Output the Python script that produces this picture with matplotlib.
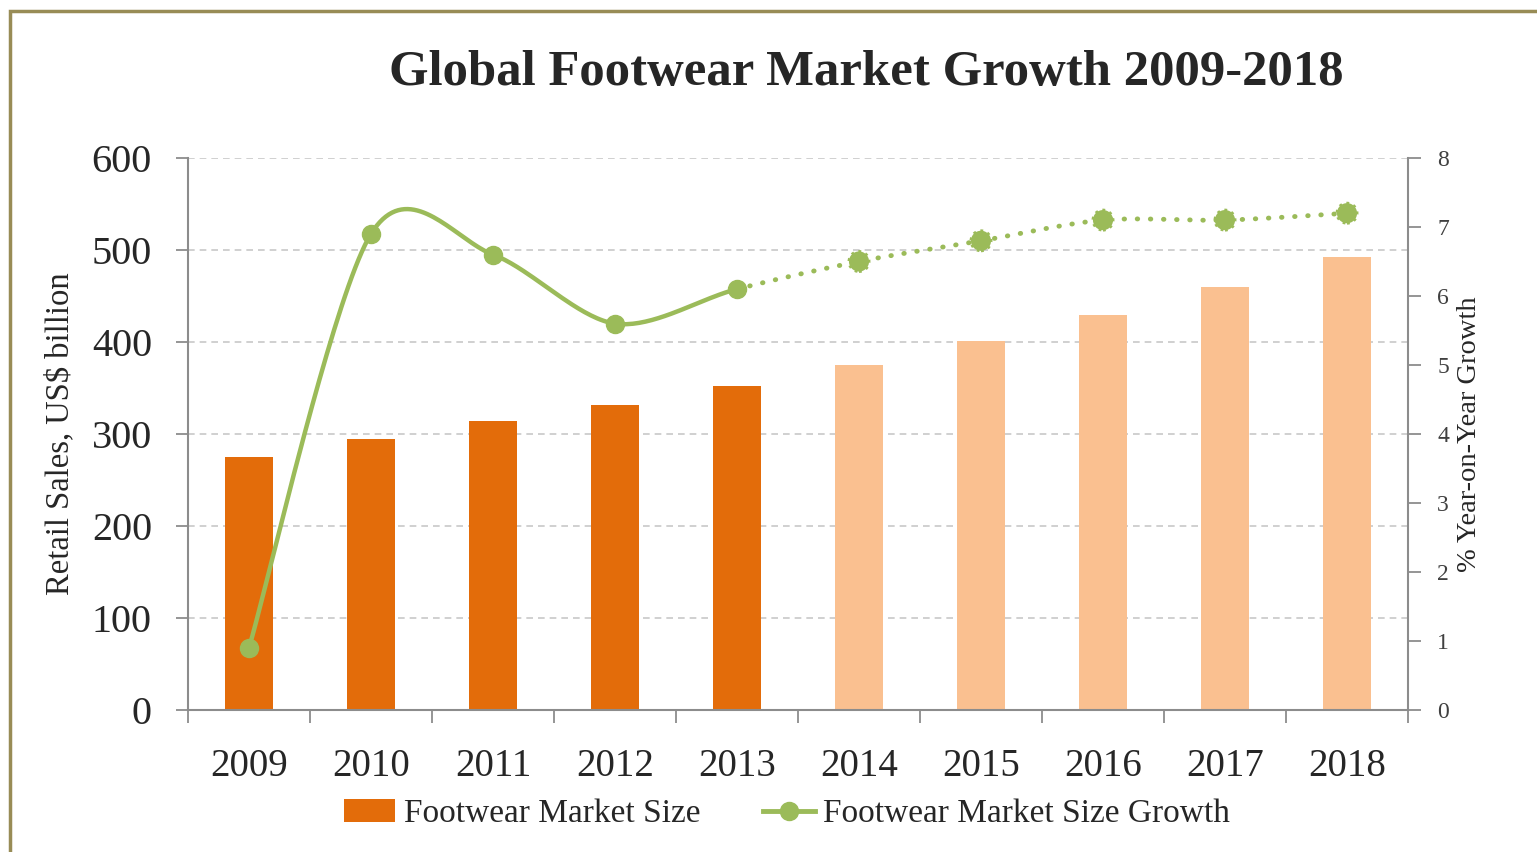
import numpy as np
import matplotlib
matplotlib.use("Agg")
import matplotlib.pyplot as plt
from matplotlib.patches import Rectangle, Patch
from matplotlib.lines import Line2D

plt.rcParams['font.family'] = ['Liberation Serif', 'DejaVu Serif']

# data
years = ['2009', '2010', '2011', '2012', '2013', '2014', '2015', '2016', '2017', '2018']
market_size = [275, 295, 314, 332, 352, 375, 401, 429, 460, 492]
growth = [0.9, 6.9, 6.6, 5.6, 6.1, 6.5, 6.8, 7.1, 7.1, 7.2]
n_actual = 5  # 2009-2013 actual, rest forecast

dark_orange = '#E36C0A'
light_orange = '#FAC090'
green = '#9BBB59'
axis_grey = '#8C8C8C'
text_col = '#262626'


def smooth_segments(xs, ys, n=40):
    # Excel-like smoothed line: cubic bezier per segment (catmull-rom tangents)
    pts = np.column_stack([xs, ys]).astype(float)
    P = np.vstack([pts[0], pts, pts[-1]])
    segs = []
    t = np.linspace(0, 1, n)[:, None]
    for i in range(1, len(P) - 2):
        p0, p1, p2, p3 = P[i - 1], P[i], P[i + 1], P[i + 2]
        b1 = p1 + (p2 - p0) / 6.5
        b2 = p2 - (p3 - p1) / 6.5
        segs.append((1 - t) ** 3 * p1 + 3 * (1 - t) ** 2 * t * b1
                    + 3 * (1 - t) * t ** 2 * b2 + t ** 3 * p2)
    return segs


fig = plt.figure(figsize=(15.37, 8.52), dpi=100)
fig.patches.append(Rectangle((10 / 1537, -0.2), 1.5, 0.2 + 1 - 11 / 852,
                             transform=fig.transFigure, fill=False,
                             edgecolor='#988C56', linewidth=2.5))

ax = fig.add_axes([188 / 1537, 1 - 710 / 852, 1220 / 1537, 552 / 852])
x = np.arange(len(years))
cols = [dark_orange if i < n_actual else light_orange for i in range(len(years))]
ax.bar(x, market_size, width=0.4, color=cols, zorder=2)

ax.set_xlim(-0.5, len(years) - 0.5)
ax.set_ylim(0, 600)
ax.set_yticks(range(0, 601, 100))
ax.set_xticks(x)
ax.set_xticklabels(years)
ax.set_xticks(np.arange(-0.5, len(years)), minor=True)
ax.tick_params(axis='x', which='major', length=0, pad=27, labelsize=28, labelcolor=text_col)
ax.tick_params(axis='x', which='minor', length=9, width=1.3, color=axis_grey)
ax.tick_params(axis='y', length=9, width=1.3, color=axis_grey, labelsize=29,
               labelcolor=text_col, pad=17)
ax.yaxis.grid(True, linestyle=(0, (4, 3)), color='#C8C8C8', linewidth=1.2, zorder=0)
ax.set_axisbelow(True)
for s in ['left', 'bottom']:
    ax.spines[s].set_color(axis_grey)
    ax.spines[s].set_linewidth(1.5)
ax.spines['top'].set_visible(False)
ax.spines['right'].set_visible(False)
ax.set_ylabel('Retail Sales, US$ billion', fontsize=23.5, color=text_col, labelpad=12)

ax2 = ax.twinx()
ax2.set_ylim(0, 8)
ax2.set_yticks(range(0, 9))
ax2.tick_params(axis='y', length=9, width=1.3, color=axis_grey, labelsize=17,
                labelcolor='#404040', pad=12)
ax2.spines['right'].set_color(axis_grey)
ax2.spines['right'].set_linewidth(1.5)
for s in ['top', 'left', 'bottom']:
    ax2.spines[s].set_visible(False)
ax2.set_ylabel('% Year-on-Year Growth', fontsize=20.5, color=text_col, labelpad=6)

segs = smooth_segments(x, growth)
solid = np.vstack(segs[:n_actual - 1])
dotted = np.vstack(segs[n_actual - 1:])
ax2.plot(solid[:, 0], solid[:, 1], color=green, lw=3.2, solid_capstyle='round', zorder=3)
ax2.plot(dotted[:, 0], dotted[:, 1], color=green, lw=3.5, linestyle=(0, (0.1, 2.6)),
         dash_capstyle='round', zorder=3)
ax2.plot(x[:n_actual], growth[:n_actual], 'o', color=green, markersize=13, zorder=4)
ax2.scatter(x[n_actual:], growth[n_actual:], s=210, color=green, edgecolor=green,
            linewidths=2, linestyle=':', zorder=4)

fig.text(0.5635, 1 - 73 / 852, 'Global Footwear Market Growth 2009-2018',
         ha='center', va='center', fontsize=36.5, fontweight='bold', color=text_col)

handles = [Patch(facecolor=dark_orange, edgecolor='none'),
           Line2D([], [], color=green, lw=3.5, marker='o', markersize=13)]
fig.legend(handles, ['Footwear Market Size', 'Footwear Market Size Growth'],
           loc='center', bbox_to_anchor=(0.512, 1 - 814 / 852), ncol=2, frameon=False,
           fontsize=24, handlelength=1.55, handletextpad=0.25, columnspacing=1.9,
           labelcolor=text_col)

fig.savefig('out.png', dpi=100)
